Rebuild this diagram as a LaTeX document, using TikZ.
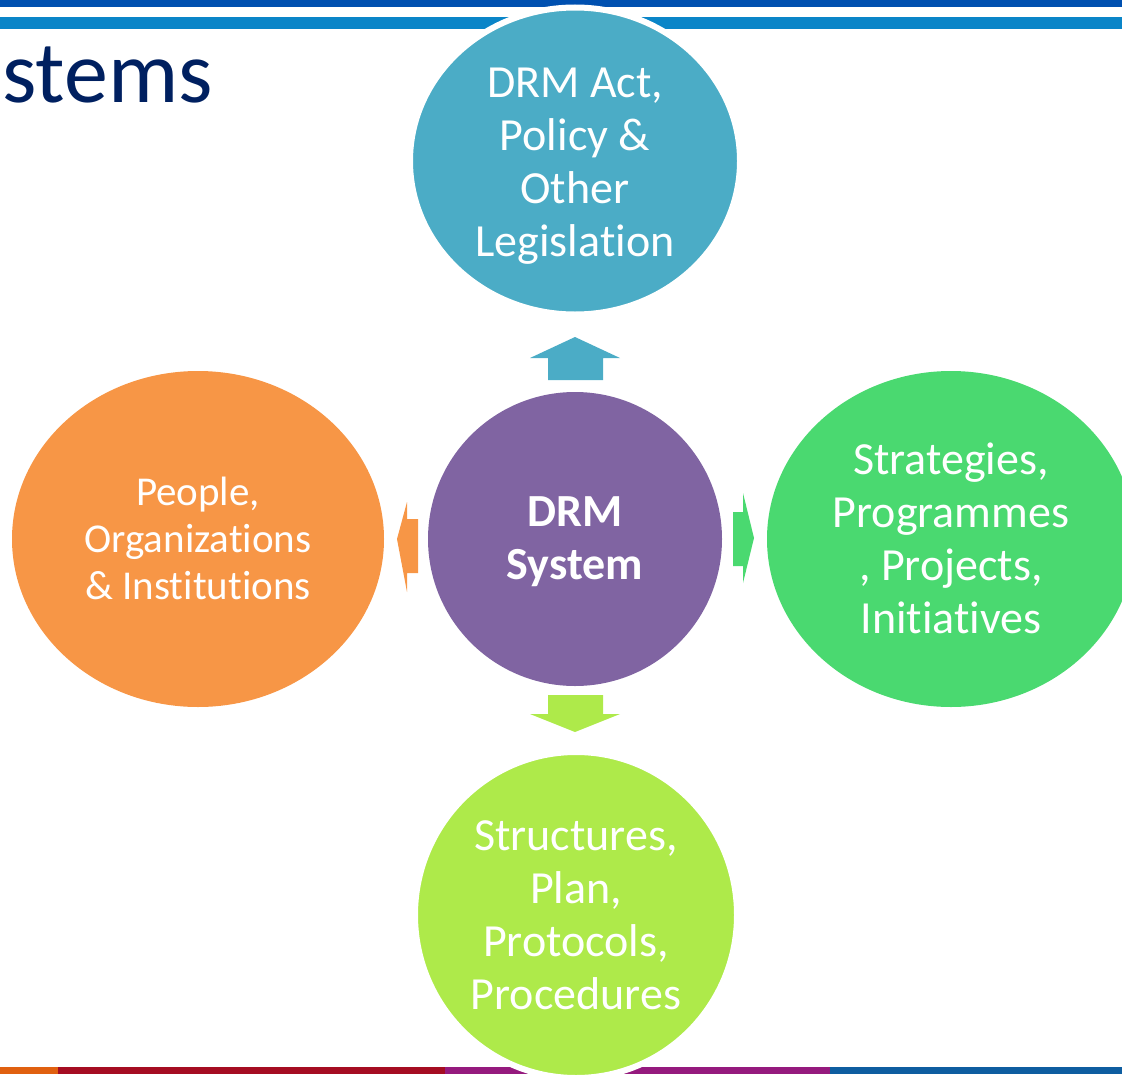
\documentclass[tikz,border=0pt]{standalone}
\usepackage{fontspec}
\setmainfont{Carlito}[Ligatures=NoCommon]
\usetikzlibrary{shapes.geometric}
\definecolor{cteal}{HTML}{4BACC6}
\definecolor{corange}{HTML}{F79646}
\definecolor{cpurple}{HTML}{8064A2}
\definecolor{cgreen}{HTML}{4AD970}
\definecolor{clime}{HTML}{AEEA4A}
\definecolor{cnavy}{HTML}{002060}
\definecolor{bardark}{HTML}{0050B0}
\definecolor{barblue}{HTML}{0A85C8}
\definecolor{bot1}{HTML}{E06010}
\definecolor{bot2}{HTML}{A50D22}
\definecolor{bot3}{HTML}{951A7E}
\definecolor{bot4}{HTML}{0E5DA0}
\begin{document}
\begin{tikzpicture}[x=1pt,y=-1pt,
  blob/.style={ellipse, inner sep=0pt},
  lbl/.style={inner sep=0pt, text=white, align=center, font=\fontsize{46}{53}\selectfont},
  ring/.style={draw=white, line width=6pt}]
\useasboundingbox (0,0) rectangle (1122,1076);
\clip (0,0) rectangle (1122,1076);
% top bars
\fill[bardark] (0,0) rectangle (1122,7);
\fill[barblue] (0,17) rectangle (1122,29);
% bottom bars
\fill[bot1] (0,1067) rectangle (58,1074);
\fill[bot2] (58,1067) rectangle (445,1074);
\fill[bot3] (445,1067) rectangle (830,1074);
\fill[bot4] (830,1067) rectangle (1122,1074);
% title
\node[anchor=base east, text=cnavy, inner sep=0pt, font=\fontsize{88}{100}\selectfont] (title) at (213,102) {stems};
% ellipses
\node[blob, ring, fill=cteal, minimum width=330pt, minimum height=307pt] (act) at (575,161) {};
\node[blob, fill=corange, minimum width=372pt, minimum height=336pt] (people) at (198,539) {};
\node[blob, fill=cpurple, minimum width=294pt, minimum height=294pt] (drm) at (575,539) {};
\node[blob, fill=cgreen, minimum width=368pt, minimum height=336pt] (strat) at (951,539) {};
\node[blob, ring, fill=clime, minimum width=322pt, minimum height=326pt] (struct) at (576,915) {};
% labels
\node[lbl] (actT) at (575,166) {DRM Act,\\Policy \&\\Other\\Legislation};
\node[lbl, font=\fontsize{41}{47}\selectfont] (peopleT) at (198,538) {People,\\Organizations\\\& Institutions};
\node[lbl, font=\bfseries\fontsize{46}{53}\selectfont] (drmT) at (575,542) {DRM\\System};
\node[lbl] (stratT) at (951,538) {Strategies,\\Programmes\\, Projects,\\Initiatives};
\node[lbl] (structT) at (576,915) {Structures,\\Plan,\\Protocols,\\Procedures};
% block arrows
\fill[cteal] (548,380)--(548,358)--(530,358)--(575,337)--(620,358)--(603,358)--(603,380)--cycle;
\fill[clime] (548,695)--(603,695)--(603,714)--(620,714)--(575,732)--(530,714)--(548,714)--cycle;
\fill[corange] (418,519)--(407,519)--(407,502)--(397,539)--(407,592)--(407,573)--(418,573)--cycle;
\fill[cgreen] (733,512)--(743,512)--(743,493)--(754,538)--(743,583)--(743,566)--(733,566)--cycle;
\end{tikzpicture}
\end{document}
